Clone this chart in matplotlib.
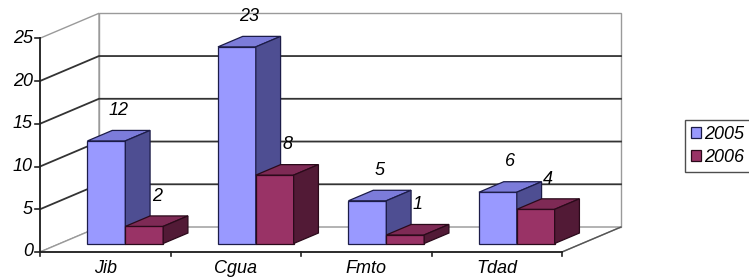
import matplotlib
matplotlib.use("Agg")
import matplotlib.pyplot as plt
from matplotlib.patches import Polygon, Patch

categories = ["Jib", "Cgua", "Fmto", "Tdad"]
series_names = ["2005", "2006"]
values_2005 = [12, 23, 5, 6]
values_2006 = [2, 8, 1, 4]
yticks = [0, 5, 10, 15, 20, 25]

front_colors = ["#9999FF", "#993366"]
top_colors = ["#7C7CDA", "#7E2A55"]
side_colors = ["#4E4E92", "#521A36"]
edge_colors = ["#1C1C48", "#2A0A1A"]

W, H = 749, 280
fig = plt.figure(figsize=(W / 100, H / 100), dpi=100)
ax = fig.add_axes([0, 0, 1, 1])
ax.set_axis_off()
# pixel mapping: x px = 40 + 130.5*x ; y px(top) = 252 - 8.55*v
ax.set_xlim(-40 / 130.5, (W - 40) / 130.5)
ax.set_ylim((252 - H) / 8.55, 252 / 8.55)

N = len(categories)
YMAX = yticks[-1]
DX, DY = 0.452, 2.92           # full depth offset
F0 = 0.34                      # depth position of bar fronts
BD = 0.42                      # bar depth fraction
BW = 0.29                      # bar width
font = dict(family="Liberation Sans", style="italic", size=13)

grid_dark = "#333333"
wall_gray = "#9a9a9a"

# walls
ax.add_patch(Polygon([(DX, DY), (N + DX, DY), (N + DX, YMAX + DY), (DX, YMAX + DY)],
                     closed=True, facecolor="white", edgecolor=wall_gray, lw=1.0, zorder=1))
ax.add_patch(Polygon([(0, 0), (DX, DY), (DX, YMAX + DY), (0, YMAX)],
                     closed=True, facecolor="white", edgecolor=wall_gray, lw=1.0, zorder=1))
ax.add_patch(Polygon([(0, 0), (N, 0), (N + DX, DY), (DX, DY)],
                     closed=True, facecolor="white", edgecolor=wall_gray, lw=1.0, zorder=1))
ax.plot([N, N + DX], [0, DY], color="#555555", lw=1.0, zorder=1.5)

for v in yticks[1:-1]:
    ax.plot([0, DX, N + DX], [v, v + DY, v + DY], color=grid_dark, lw=1.3, zorder=2)

# front axes
ax.plot([0, 0], [0, YMAX], color="#222222", lw=1.3, zorder=6)
ax.plot([0, N], [0, 0], color="#222222", lw=1.3, zorder=6)
for v in yticks:
    ax.plot([-0.035, 0], [v, v], color="#222222", lw=1.2, zorder=6)
    ax.text(-0.055, v, str(v), ha="right", va="center", **font)
for i in range(N + 1):
    ax.plot([i, i], [0, -0.45], color="#222222", lw=1.2, zorder=6)
for i, c in enumerate(categories):
    ax.text(i + 0.5, -1.9, c, ha="center", va="center", **font)

# bars
bdx, bdy = BD * DX, BD * DY
ox, oy = F0 * DX, F0 * DY
series = [values_2005, values_2006]
for i in range(N):
    for s, vals in enumerate(series):
        val = vals[i]
        xl = i + 0.5 - BW + s * BW + ox
        b = oy
        t = b + val
        ax.bar(xl, val, width=BW, bottom=b, align="edge", color=front_colors[s],
               edgecolor=edge_colors[s], lw=0.9, zorder=3 + 0.1 * (2 * i + s))
        ax.add_patch(Polygon([(xl, t), (xl + BW, t), (xl + BW + bdx, t + bdy), (xl + bdx, t + bdy)],
                             closed=True, facecolor=top_colors[s], edgecolor=edge_colors[s],
                             lw=0.9, zorder=3 + 0.1 * (2 * i + s)))
        ax.add_patch(Polygon([(xl + BW, b), (xl + BW + bdx, b + bdy), (xl + BW + bdx, t + bdy), (xl + BW, t)],
                             closed=True, facecolor=side_colors[s], edgecolor=edge_colors[s],
                             lw=0.9, zorder=3 + 0.1 * (2 * i + s)))
        ax.annotate(str(val), (xl + BW / 2 + bdx / 2, t + bdy / 2), xytext=(0, 18),
                    textcoords="offset points", ha="center", va="center", zorder=5, **font)

handles = [Patch(facecolor=front_colors[s], edgecolor=edge_colors[s], lw=0.9) for s in range(2)]
leg = fig.legend(handles, series_names, loc="upper left", bbox_to_anchor=(685 / W, 1 - 120 / H),
                 borderaxespad=0, borderpad=0.35, handlelength=0.55, handleheight=0.55,
                 handletextpad=0.15, labelspacing=0.3, fancybox=False,
                 prop=dict(family="Liberation Sans", style="italic", size=13))
leg.get_frame().set_edgecolor("#222222")
leg.get_frame().set_linewidth(1.0)

fig.savefig("out.png", dpi=100)
